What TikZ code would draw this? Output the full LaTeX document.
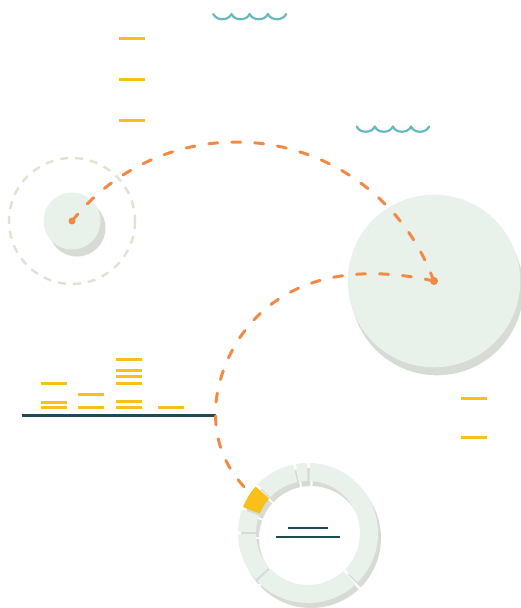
\documentclass[tikz,border=0pt]{standalone}
\usepackage{tikz}
\usetikzlibrary{calc}

\definecolor{mint_light}{RGB}{232,242,235}
\definecolor{mint_shadow}{RGB}{214,219,212}
\definecolor{sun_yellow}{RGB}{250,192,26}
\definecolor{route_orange}{RGB}{242,138,70}
\definecolor{wave_teal}{RGB}{104,184,194}
\definecolor{axis_dark}{RGB}{30,74,80}
\definecolor{orbit_sage}{RGB}{221,228,208}

\tikzset{
    route/.style={
        draw=route_orange, line width=3pt, line cap=round,
        dash pattern=on 9pt off 14pt
    },
    orbit/.style={
        draw=orbit_sage, line width=2.4pt,
        dash pattern=on 8pt off 7pt
    },
    tick/.style={
        draw=sun_yellow, line width=3pt
    },
    wave/.style={
        draw=wave_teal, line width=2.2pt, line cap=round
    },
    axisline/.style={
        draw=axis_dark, line width=3pt
    },
    bodyfill/.style={fill=mint_light},
    dropshade/.style={fill=mint_shadow},
    pin/.style={fill=route_orange}
}

\begin{document}
\begin{tikzpicture}[x=1pt, y=-1pt]
    \useasboundingbox (0,0) rectangle (521,608);

    % --- Puntos de referencia ---
    \coordinate (moon)       at (72,221);
    \coordinate (planet)     at (434,281);
    \coordinate (bend)       at (215.5,413);
    \coordinate (dock)       at (247,490);
    \coordinate (ring)       at (308,533);
    \coordinate (ringshade)  at (311,538);
    \coordinate (axis_start) at (22,415);

    % --- Olas ---
    \foreach \x in {213.3, 231.5, 249.7, 267.9} {
        \draw[wave] (\x,14) .. controls +(3,7) and +(-3,7) .. +(18.2,0);
    }
    \foreach \x in {356.7, 374.8, 392.9, 411} {
        \draw[wave] (\x,126.5) .. controls +(3,7) and +(-3,7) .. +(18.1,0);
    }

    % --- Marcas sueltas ---
    \foreach \x/\y in {119/38, 119/79, 119/120, 461/398, 461/437} {
        \draw[tick] (\x,\y) -- ++(26,0);
    }

    % --- Barras sobre el eje ---
    \foreach \x/\y in {41/383, 41/402, 41/407, 78/394, 78/407,
                       116/359, 116/370, 116/376, 116/383, 116/401, 116/407,
                       158/407} {
        \draw[tick] (\x,\y) -- ++(26,0);
    }
    \draw[axisline] (axis_start) -- (bend |- axis_start);

    % --- Cuerpos ---
    \fill[dropshade] ($(moon)+(5,7)$) circle[radius=28.5];
    \fill[bodyfill] (moon) circle[radius=28.5];
    \draw[orbit] (moon) circle[radius=63];
    \fill[dropshade] ($(planet)+(3,8)$) circle[radius=86.3];
    \fill[bodyfill] (planet) circle[radius=86.3];

    % --- Trayectorias ---
    \draw[route] (moon) arc[start angle=-141.4, end angle=-19.8, radius=210];
    \draw[route] (planet) .. controls (267,244.3) and (215.5,356) .. (bend)
        .. controls (215.5,446) and (227.3,469.3) .. (dock);
    \fill[pin] (moon) circle[radius=3.5];
    \fill[pin] (planet) circle[radius=4];

    % --- Anillo ---
    \foreach \a/\b in {-46/89.5, 89.5/101, 101/137.3, 137.3/159.3,
                       159.3/180, 180/222.5, 222.5/314} {
        \pgfmathsetmacro{\s}{-(\a+1.1)}
        \pgfmathsetmacro{\e}{-(\b-1.1)}
        \fill[dropshade] ($(ringshade)+(\s:70)$) arc[start angle=\s, end angle=\e, radius=70]
            -- ($(ringshade)+(\e:52)$) arc[start angle=\e, end angle=\s, radius=52] -- cycle;
    }
    \foreach \a/\b/\c in {-46/89.5/mint_light, 89.5/101/mint_light, 101/137.3/mint_light,
                          137.3/159.3/sun_yellow, 159.3/180/mint_light,
                          180/222.5/mint_light, 222.5/314/mint_light} {
        \pgfmathsetmacro{\s}{-(\a+1.1)}
        \pgfmathsetmacro{\e}{-(\b-1.1)}
        \fill[\c] ($(ring)+(\s:70)$) arc[start angle=\s, end angle=\e, radius=70]
            -- ($(ring)+(\e:52)$) arc[start angle=\e, end angle=\s, radius=52] -- cycle;
    }
    \draw[axisline, line width=2.5pt] ($(ring)+(-20,-5)$) -- ($(ring)+(20,-5)$);
    \draw[axisline, line width=2.5pt] ($(ring)+(-32,4)$) -- ($(ring)+(32,4)$);

\end{tikzpicture}
\end{document}
